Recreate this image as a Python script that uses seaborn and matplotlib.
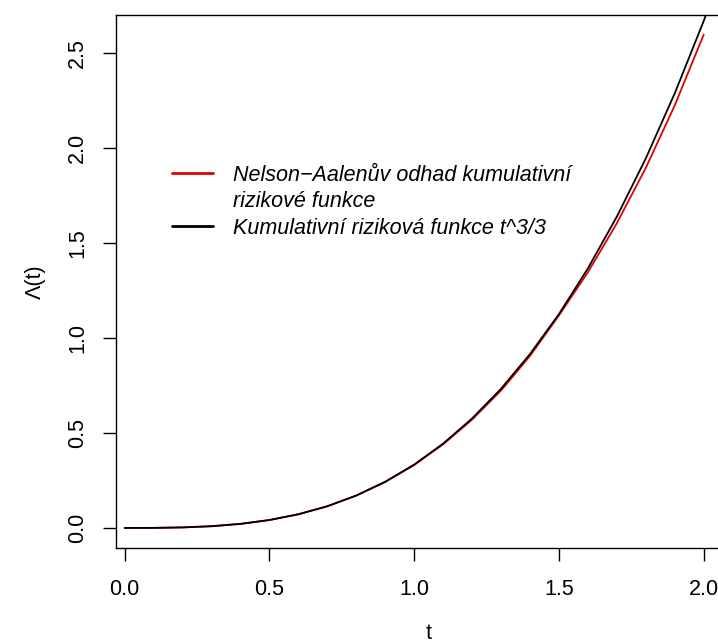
import numpy as np
import pandas as pd
import matplotlib
matplotlib.use("Agg")
import matplotlib.pyplot as plt
from matplotlib.lines import Line2D
import seaborn as sns

# ---- data ----
t_true = [0.0, 0.1, 0.2, 0.3, 0.4, 0.5, 0.6, 0.7, 0.8, 0.9, 1.0,
          1.1, 1.2, 1.3, 1.4, 1.5, 1.6, 1.7, 1.8, 1.9, 2.0, 2.1]
cum_true = [0.0, 0.0003, 0.0027, 0.009, 0.0213, 0.0417, 0.072, 0.1143,
            0.1707, 0.243, 0.3333, 0.4437, 0.576, 0.7323, 0.9147, 1.125,
            1.3653, 1.6377, 1.944, 2.2863, 2.6667, 3.087]

t_na = [0.0, 0.1, 0.2, 0.3, 0.4, 0.5, 0.6, 0.7, 0.8, 0.9, 1.0,
        1.1, 1.2, 1.3, 1.4, 1.5, 1.6, 1.7, 1.8, 1.9, 2.0]
cum_na = [0.0, 0.0003, 0.0027, 0.009, 0.0213, 0.0415, 0.0718, 0.1138,
          0.170, 0.242, 0.331, 0.440, 0.570, 0.723, 0.905, 1.118,
          1.345, 1.603, 1.894, 2.223, 2.595]

label_na_1 = "Nelson\u2212Aalenův odhad kumulativní"
label_na_2 = "rizikové funkce"
label_true = "Kumulativní riziková funkce t^3/3"

x_ticks = [0.0, 0.5, 1.0, 1.5, 2.0]
y_ticks = [0.0, 0.5, 1.0, 1.5, 2.0, 2.5]

df = pd.concat([
    pd.DataFrame({"t": t_na, "L": cum_na, "serie": "na"}),
    pd.DataFrame({"t": t_true, "L": cum_true, "serie": "true"}),
], ignore_index=True)

sns.set_style("ticks")
plt.rcParams["font.family"] = ["Liberation Sans", "DejaVu Sans"]
plt.rcParams["text.color"] = "black"
plt.rcParams["axes.labelcolor"] = "black"

W, H = 718, 643
fig = plt.figure(figsize=(W / 100, H / 100), dpi=100)
ax_l, ax_r, ax_b, ax_t = 116.3, 740.0, 547.7, 14.7
ax = fig.add_axes([ax_l / W, (H - ax_b) / H, (ax_r - ax_l) / W, (ax_b - ax_t) / H])

colors = {"na": "#E00000", "true": "black"}
sns.lineplot(data=df, x="t", y="L", hue="serie", sort=False,
             palette=colors, hue_order=["na", "true"], linewidth=1.3,
             ax=ax, estimator=None, legend=False)

# axis limits (pixel-calibrated)
px_per_x = 289.5
x0_px = 124.7
ax.set_xlim((ax_l - x0_px) / px_per_x, (ax_r - x0_px) / px_per_x)
ax.set_ylim(-0.104, 2.700)

ax.set_xticks(x_ticks)
ax.set_xticklabels([f"{v:.1f}" for v in x_ticks])
ax.set_yticks(y_ticks)
ax.set_yticklabels([f"{v:.1f}" for v in y_ticks], rotation=90, va="center")

for s in ["left", "top", "bottom", "right"]:
    ax.spines[s].set_visible(True)
    ax.spines[s].set_color("black")
    ax.spines[s].set_linewidth(1.0)

ax.tick_params(axis="both", direction="out", length=9.4, width=1.0,
               colors="black", labelsize=15.5)
ax.tick_params(axis="x", pad=13)
ax.tick_params(axis="y", pad=11)

ax.set_xlabel("t", fontsize=15.5, labelpad=17, color="black")
ax.set_ylabel("\u039b(t)", fontsize=15.5, labelpad=15, color="black")

handles = [Line2D([], [], color=colors["na"], lw=2.0),
           Line2D([], [], color="none", lw=0),
           Line2D([], [], color=colors["true"], lw=2.0)]
labels = [label_na_1, label_na_2, label_true]
leg = ax.legend(handles, labels, loc="upper left",
                bbox_to_anchor=((172 - ax_l) / (ax_r - ax_l),
                                1 - (165 - ax_t) / (ax_b - ax_t)),
                frameon=False, handlelength=1.9,
                handletextpad=0.95, borderpad=0, borderaxespad=0,
                labelspacing=0.25, prop={"style": "italic", "size": 15.5})
for txt in leg.get_texts():
    txt.set_color("black")

fig.savefig("out.png", dpi=100)
